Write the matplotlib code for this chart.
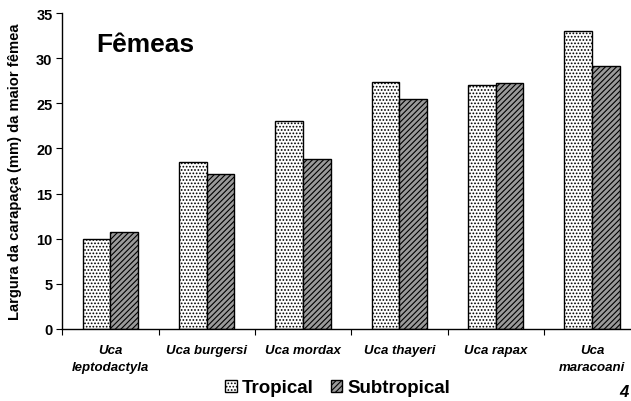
import matplotlib
matplotlib.use("Agg")
import matplotlib.pyplot as plt
import numpy as np

plt.rcParams['font.family'] = ['Liberation Sans', 'DejaVu Sans']
plt.rcParams['hatch.linewidth'] = 0.8

categories = ["Uca\nleptodactyla", "Uca burgersi", "Uca mordax", "Uca thayeri", "Uca rapax", "Uca\nmaracoani"]
tropical = [10.0, 18.5, 23.0, 27.4, 27.0, 33.0]
subtropical = [10.7, 17.2, 18.8, 25.5, 27.3, 29.1]
yticks = [0, 5, 10, 15, 20, 25, 30, 35]

fig = plt.figure(figsize=(6.31, 4.02), dpi=100)
ax = fig.add_axes([62.3/631, 72/402, 578/631, 316/402])

x = np.arange(len(categories))
w = 0.287
ax.bar(x - w/2, tropical, w, facecolor='white', edgecolor='black', hatch='.....', linewidth=1.0, label='Tropical')
ax.bar(x + w/2, subtropical, w, facecolor='#9a9a9a', edgecolor='black', hatch='//////', linewidth=1.0, label='Subtropical')

ax.set_xlim(-0.5, len(categories) - 0.5)
ax.set_ylim(0, 35)
ax.set_yticks(yticks)
ax.set_yticklabels([str(v) for v in yticks], fontsize=10.5, fontweight='bold')
ax.set_xticks(np.arange(len(categories) + 1) - 0.5, minor=False)
ax.set_xticklabels([])
ax.set_xticks(x, minor=True)
ax.set_xticklabels(categories, minor=True, fontsize=9.5, fontweight='bold', fontstyle='italic', linespacing=1.55)
ax.tick_params(axis='x', which='minor', length=0, pad=11)
ax.tick_params(axis='x', which='major', length=4, direction='out')
ax.tick_params(axis='y', length=4, direction='out', pad=3)
for s in ['top', 'right']:
    ax.spines[s].set_visible(False)
ax.spines['left'].set_linewidth(1.0)
ax.spines['bottom'].set_linewidth(1.0)

ax.set_ylabel('Largura da carapaça (mm) da maior fêmea', fontsize=10.6, fontweight='bold')
ax.yaxis.set_label_coords(-0.07, 0.5)

fig.text(96/631, 1 - 45/402, 'Fêmeas', fontsize=19, fontweight='bold', va='center', ha='left')

leg = fig.legend(loc='center', bbox_to_anchor=(338/631, 1 - 389/402), ncol=2, frameon=False,
                 prop={'weight': 'bold', 'size': 13.5}, handlelength=0.6, handleheight=0.6,
                 handletextpad=0.3, columnspacing=0.9)

fig.text(619/631, 1 - 385/402, '4', fontsize=12, fontweight='bold', fontstyle='italic', va='top', ha='left')

fig.savefig('out.png', dpi=100)
